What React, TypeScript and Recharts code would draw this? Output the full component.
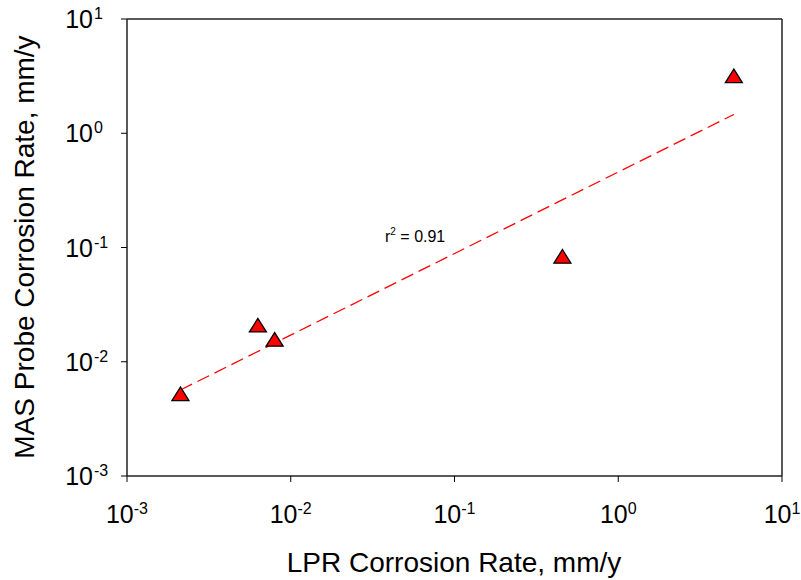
import React from 'react';
import { ScatterChart, Scatter, XAxis, YAxis, ReferenceLine } from 'recharts';

// measured points (LPR vs MAS probe), mm/y
const lprRate = [0.00212, 0.0063, 0.00797, 0.456, 5.08];
const masRate = [0.00524, 0.0209, 0.0157, 0.0837, 3.18];

// regression line end points
const fitX = [0.00212, 5.08];
const fitY = [0.00566, 1.46];

const decadeTicks = [0.001, 0.01, 0.1, 1, 10];
const xTitle = 'LPR Corrosion Rate, mm/y';
const yTitle = 'MAS Probe Corrosion Rate, mm/y';
const r2Label = '0.91';

const FONT = '"Liberation Sans", Arial, sans-serif';

const points = lprRate.map((x, i) => ({ x, y: masRate[i] }));

const expOf = (v: number) => String(Math.round(Math.log10(v)));

const XTick = (props: any) => {
  const { x, y, payload } = props;
  return (
    <text x={x} y={y + 33} textAnchor="middle" fontFamily={FONT} fill="#000">
      <tspan fontSize={25}>10</tspan>
      <tspan fontSize={16} dy={-9}>{expOf(payload.value)}</tspan>
    </text>
  );
};

const YTick = (props: any) => {
  const { x, y, payload } = props;
  return (
    <g fontFamily={FONT} fill="#000">
      <text x={x} y={y + 9} textAnchor="end" fontSize={25}>10</text>
      <text x={x + 1} y={y} textAnchor="start" fontSize={16}>{expOf(payload.value)}</text>
    </g>
  );
};

const Triangle = (props: any) => {
  const { cx, cy } = props;
  if (cx == null || cy == null) return null;
  const w = 8.5;
  const h = 6.8;
  return (
    <polygon
      points={`${cx},${cy - h} ${cx - w},${cy + h} ${cx + w},${cy + h}`}
      fill="#ff0000"
      stroke="#000"
      strokeWidth={1.3}
      strokeLinejoin="miter"
    />
  );
};

export default function App() {
  return (
    <div style={{ position: 'absolute', left: 0, top: 0, background: '#fff' }}>
      <ScatterChart width={801} height={580} margin={{ top: 19, right: 19, left: 0, bottom: 0 }}>
        <XAxis
          type="number"
          dataKey="x"
          scale="log"
          domain={[0.001, 10]}
          ticks={decadeTicks}
          allowDataOverflow
          height={104}
          tickSize={6}
          tickMargin={8}
          axisLine={{ stroke: '#222', strokeWidth: 1.5 }}
          tickLine={{ stroke: '#000', strokeWidth: 1 }}
          tick={<XTick />}
          interval={0}
        />
        <YAxis
          type="number"
          dataKey="y"
          scale="log"
          domain={[0.001, 10]}
          ticks={decadeTicks}
          allowDataOverflow
          width={127}
          tickSize={6}
          tickMargin={28}
          axisLine={{ stroke: '#222', strokeWidth: 1.5 }}
          tickLine={{ stroke: '#000', strokeWidth: 1 }}
          tick={<YTick />}
          interval={0}
        />
        <ReferenceLine y={10} stroke="#222" strokeWidth={1.5} ifOverflow="visible" />
        <ReferenceLine x={10} stroke="#222" strokeWidth={1.5} ifOverflow="visible" />
        <ReferenceLine
          segment={[{ x: fitX[0], y: fitY[0] }, { x: fitX[1], y: fitY[1] }]}
          stroke="#ff0000"
          strokeWidth={1.3}
          strokeDasharray="13 6"
          ifOverflow="visible"
        />
        <Scatter data={points} shape={<Triangle />} isAnimationActive={false} />
        <text x={385} y={242} fontFamily={FONT} fontSize={16} fill="#000">
          r<tspan fontSize={10} dy={-7}>2</tspan>
          <tspan dy={7}>{' = ' + r2Label}</tspan>
        </text>
        <text x={454} y={572} textAnchor="middle" fontFamily={FONT} fontSize={28} fill="#000">
          {xTitle}
        </text>
        <text
          x={34}
          y={247}
          textAnchor="middle"
          fontFamily={FONT}
          fontSize={28}
          fill="#000"
          transform="rotate(-90, 34, 247)"
        >
          {yTitle}
        </text>
      </ScatterChart>
    </div>
  );
}
